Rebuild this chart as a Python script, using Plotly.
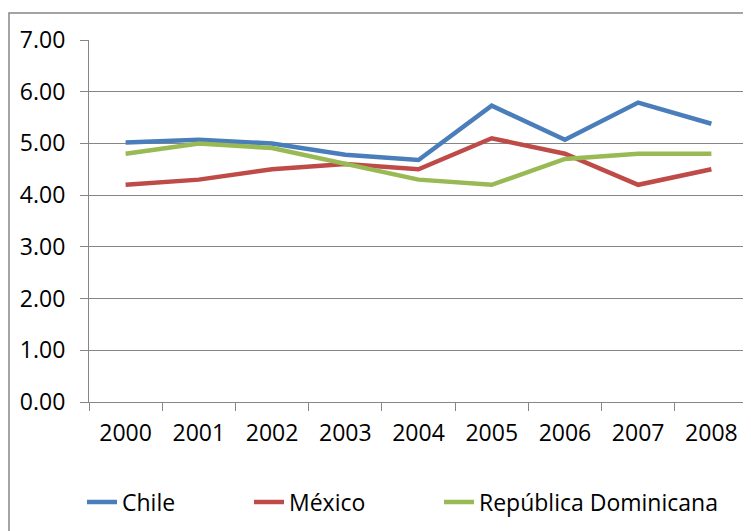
import plotly.graph_objects as go

years = ["2000", "2001", "2002", "2003", "2004", "2005", "2006", "2007", "2008"]
chile = [5.02, 5.07, 5.00, 4.78, 4.68, 5.73, 5.07, 5.79, 5.38]
mexico = [4.20, 4.30, 4.50, 4.60, 4.50, 5.10, 4.80, 4.20, 4.50]
rep_dom = [4.80, 5.00, 4.91, 4.60, 4.30, 4.20, 4.70, 4.80, 4.80]
y_ticks = [0, 1, 2, 3, 4, 5, 6, 7]

series = [
    ("Chile", chile, "#4A7EBB", "legend"),
    ("México", mexico, "#BE4B48", "legend2"),
    ("República Dominicana", rep_dom, "#98B954", "legend3"),
]

fig = go.Figure()
for name, vals, col, lg in series:
    fig.add_trace(go.Scatter(
        x=years, y=vals, name=name, mode="lines",
        line=dict(color=col, width=4.5), legend=lg,
    ))

W, H = 751, 531
OFF = 8  # page body margin offset
# target plot area in page pixels
PL, PR, PT, PB = 89, 748, 40, 402
ml = PL - OFF
mt = PT - OFF
mr = (W + OFF) - PR
mb = (H + OFF) - PB
pw, ph = PR - PL, PB - PT

def px_x(p):
    return (p - PL) / pw

def px_y(p):
    return 1 - (p - PT) / ph

fig.add_shape(type="rect", xref="paper", yref="paper",
              x0=px_x(9), x1=px_x(770), y0=px_y(13), y1=px_y(550),
              line=dict(color="#868686", width=1.5), fillcolor="rgba(0,0,0,0)",
              layer="below")

axis_col = "#868686"
FS = 23

def leg(xpx):
    return dict(orientation="h", x=px_x(xpx), xanchor="left",
                y=px_y(502), yanchor="middle",
                font=dict(size=FS), itemwidth=30,
                bgcolor="rgba(0,0,0,0)")

fig.update_layout(
    width=W, height=H,
    margin=dict(l=ml, r=mr, t=mt, b=mb, pad=0),
    paper_bgcolor="white", plot_bgcolor="white",
    font=dict(family="Open Sans", size=FS, color="black"),
    showlegend=True,
    legend=leg(82),
    legend2=leg(249),
    legend3=leg(439),
    xaxis=dict(type="category", range=[-0.5, 8.5], showgrid=False,
               showline=True, linecolor=axis_col, linewidth=1.2,
               ticks="outside", tickson="boundaries", ticklen=8,
               tickcolor=axis_col, tickwidth=1.2,
               ticklabelstandoff=10, automargin=False,
               fixedrange=True),
    yaxis=dict(range=[0, 7], tickvals=y_ticks, tickformat=".2f",
               showgrid=True, gridcolor=axis_col, gridwidth=1.2,
               showline=True, linecolor=axis_col, linewidth=1.2,
               ticks="outside", ticklen=8, tickcolor=axis_col, tickwidth=1.2,
               ticklabelstandoff=10, zeroline=False, automargin=False,
               fixedrange=True),
)

fig.write_html("out.html")
